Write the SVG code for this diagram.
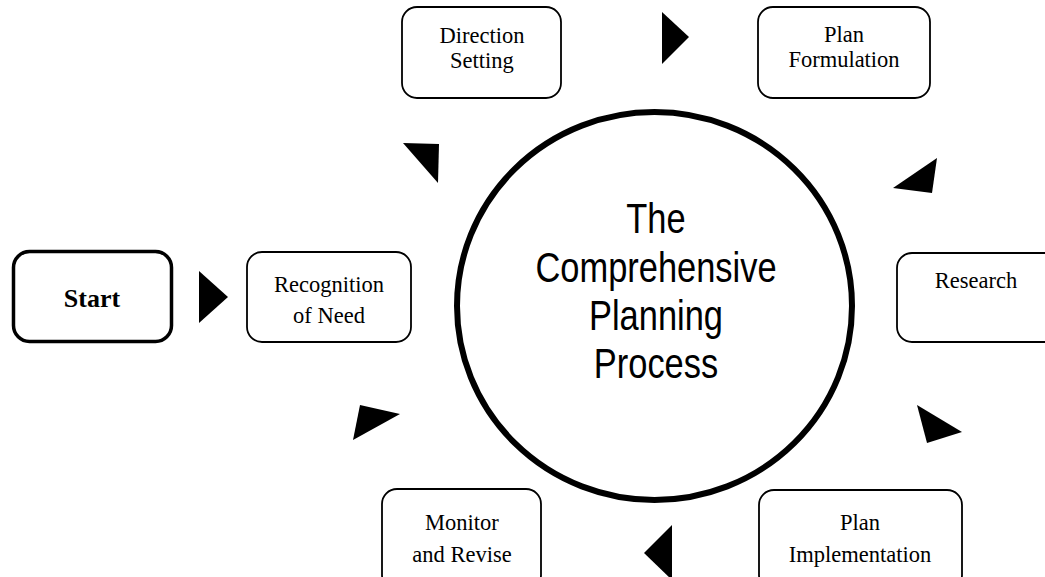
<svg xmlns="http://www.w3.org/2000/svg" width="1045" height="577" viewBox="0 0 1045 577">
<defs>
<style>
.box{fill:#fff;stroke:#000;stroke-width:1.8}
.lbl{font-family:"Liberation Serif","Times New Roman",serif;font-size:22.5px;fill:#000;text-anchor:middle}
.tri{fill:#000;stroke:none}
.title{font-family:"Liberation Sans","Arial",sans-serif;font-size:42px;fill:#000;text-anchor:middle}
</style>
</defs>
<rect width="1045" height="577" fill="#fff"/>
<g id="connectors">
<polygon class="tri" points="199,271 228,297 199,323"/>
<polygon class="tri" points="403,143 439,144 438,183"/>
<polygon class="tri" points="662,12 689,37 662,64"/>
<polygon class="tri" points="893,188 937,158 932,193"/>
<polygon class="tri" points="917,405 962,432 927,443"/>
<polygon class="tri" points="672,525 644,553 672,580"/>
<polygon class="tri" points="360,405 400,414 353,440"/>
</g>
<g id="center">
<ellipse cx="654.5" cy="306" rx="197.5" ry="194" fill="#fff" stroke="#000" stroke-width="6"/>
<g transform="translate(656,0) scale(0.82,1)">
<text class="title" x="0" y="233">The</text>
<text class="title" x="0" y="282">Comprehensive</text>
<text class="title" x="0" y="330">Planning</text>
<text class="title" x="0" y="378">Process</text>
</g>
</g>
<g id="start">
<rect x="13.5" y="251.5" width="158" height="90" rx="16" fill="#fff" stroke="#000" stroke-width="3.5"/>
<text x="92" y="307" font-family="'Liberation Serif','Times New Roman',serif" font-size="26" font-weight="bold" text-anchor="middle">Start</text>
</g>
<g id="recognition">
<rect class="box" x="247" y="252" width="164" height="90" rx="15"/>
<text class="lbl" x="329" y="292">Recognition</text>
<text class="lbl" x="329" y="323">of Need</text>
</g>
<g id="direction">
<rect class="box" x="402" y="7" width="159" height="91" rx="15"/>
<text class="lbl" x="482" y="43">Direction</text>
<text class="lbl" x="482" y="68">Setting</text>
</g>
<g id="formulation">
<rect class="box" x="758" y="7" width="172" height="91" rx="15"/>
<text class="lbl" x="844" y="42">Plan</text>
<text class="lbl" x="844" y="67">Formulation</text>
</g>
<g id="research">
<rect class="box" x="897" y="253" width="165" height="89" rx="15"/>
<text class="lbl" x="976" y="288">Research</text>
</g>
<g id="implementation">
<rect class="box" x="759" y="490" width="203" height="100" rx="15"/>
<text class="lbl" x="860" y="530">Plan</text>
<text class="lbl" x="860" y="562">Implementation</text>
</g>
<g id="monitor">
<rect class="box" x="382" y="489" width="159" height="101" rx="15"/>
<text class="lbl" x="462" y="530">Monitor</text>
<text class="lbl" x="462" y="562">and Revise</text>
</g>
</svg>
